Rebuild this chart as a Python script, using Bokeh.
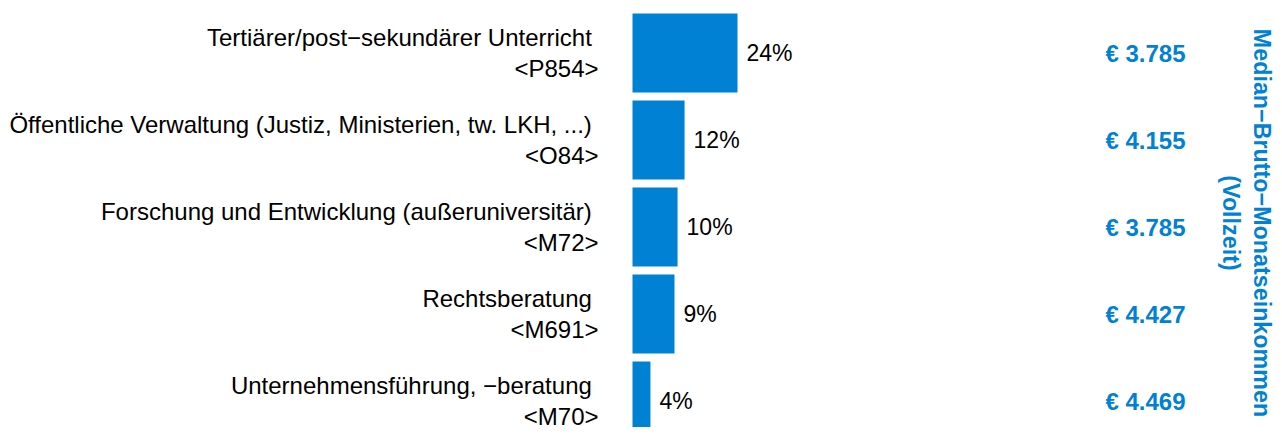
from bokeh.plotting import figure
from bokeh.models import Range1d, ColumnDataSource, Label
from bokeh.core.properties import value
from bokeh.embed import file_html
from bokeh.resources import INLINE

# ---- data ----
categories = [
    "Tertiärer/post−sekundärer Unterricht \n<P854>",
    "Öffentliche Verwaltung (Justiz, Ministerien, tw. LKH, ...) \n<O84>",
    "Forschung und Entwicklung (außeruniversitär) \n<M72>",
    "Rechtsberatung \n<M691>",
    "Unternehmensführung, −beratung \n<M70>",
]
shares = [24.0, 11.9, 10.3, 9.6, 4.1]
share_labels = ["24%", "12%", "10%", "9%", "4%"]
median_income = [3785, 4155, 3785, 4427, 4469]
title_text = "Median−Brutto−Monatseinkommen\n(Vollzeit)"

# ---- layout constants ----
W, H = 1274, 427
PX_PER_PCT = 4.375
ORIGIN_PX = 632
ROW_PX = 87
FIRST_ROW_PX = 52.5
BLUE = "#0081D4"
FONT = "Liberation Sans"

rows = list(range(1, len(categories) + 1))
x0 = -ORIGIN_PX / PX_PER_PCT
x1 = x0 + W / PX_PER_PCT
y_top = 1 - FIRST_ROW_PX / ROW_PX
y_bot = y_top + H / ROW_PX

src = ColumnDataSource(dict(
    row=rows,
    cat=categories,
    share=shares,
    share_lab=share_labels,
    inc_lab=[("€ " + f"{v:,}".replace(",", ".")) for v in median_income],
    xend=[x1] * len(rows),
    zero=[0] * len(rows),
))

p = figure(width=W, height=H, output_backend="svg", toolbar_location=None,
           x_range=Range1d(x0, x1), y_range=Range1d(y_bot, y_top),
           min_border=0, min_border_left=0, min_border_right=0,
           min_border_top=0, min_border_bottom=0)
p.axis.visible = False
p.grid.visible = False
p.outline_line_color = None
p.background_fill_color = "white"
p.border_fill_color = "white"

p.hbar(y="row", left="zero", right="share", height=79 / ROW_PX,
       fill_color=BLUE, line_color=None, source=src)

p.text(x="zero", y="row", text="cat", source=src, x_offset=-34, y_offset=0,
       text_align="right", text_baseline="middle", text_line_height=1.18,
       text_font=value(FONT), text_font_size="24px", text_color="black")

p.text(x="share", y="row", text="share_lab", source=src, x_offset=9,
       text_align="left", text_baseline="middle",
       text_font=value(FONT), text_font_size="23px", text_color="black")

p.text(x="xend", y="row", text="inc_lab", source=src, x_offset=-89,
       text_align="right", text_baseline="middle",
       text_font=value(FONT), text_font_size="24px", text_font_style="bold",
       text_color=BLUE)

title = Label(x=x1, y=(y_top + y_bot) / 2, x_offset=-28, y_offset=-9,
              text=title_text, angle=-90, angle_units="deg",
              text_align="center", text_baseline="middle",
              text_line_height=1.23, text_font=FONT, text_font_size="23.3px",
              text_font_style="bold", text_color=BLUE)
p.add_layout(title)

open("out.html", "w").write(file_html(p, INLINE))
